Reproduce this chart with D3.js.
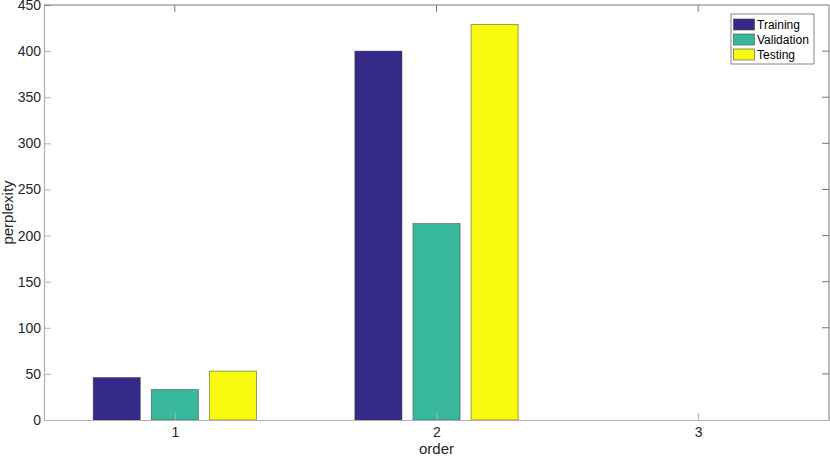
<!DOCTYPE html>
<html>
<head>
<meta charset="utf-8">
<script src="https://cdn.jsdelivr.net/npm/d3@7"></script>
<style>
body { margin: 0; background: #fff; }
text { font-family: "Liberation Sans", Arial, sans-serif; }
</style>
</head>
<body>
<div id="chart"></div>
<script>
// données
const orders = [1, 2, 3];
const series = ["Training", "Validation", "Testing"];
const training = [46, 400, 0];
const validation = [33, 213, 0];
const testing = [53, 429, 0];
const yTicks = [0, 50, 100, 150, 200, 250, 300, 350, 400, 450];
const colors = ["#352a87", "#38b99e", "#f9fb0e"];

const width = 830, height = 457;
const margin = {top: 5, right: 1, bottom: 37, left: 44};

const svg = d3.select("#chart").append("svg")
    .attr("width", width)
    .attr("height", height);

const x = d3.scaleLinear()
    .domain([0.5, 3.5])
    .range([margin.left, width - margin.right]);

const y = d3.scaleLinear()
    .domain([0, 450])
    .range([height - margin.bottom, margin.top]);

const values = [training, validation, testing];
const offsets = [-0.222, 0, 0.222];
const barW = 0.18;

const rows = [];
values.forEach((vals, s) => {
    vals.forEach((v, i) => {
        if (v > 0) rows.push({order: orders[i], value: v, s: s});
    });
});

// barres
svg.selectAll("rect.bar")
    .data(rows)
    .enter()
    .append("rect")
    .attr("class", "bar")
    .attr("x", d => x(d.order + offsets[d.s] - barW / 2))
    .attr("y", d => y(d.value))
    .attr("width", d => x(barW) - x(0))
    .attr("height", d => y(0) - y(d.value))
    .attr("fill", d => colors[d.s])
    .attr("stroke", "#333")
    .attr("stroke-opacity", 0.6)
    .attr("stroke-width", 0.8);

// axes
const axisColor = "#b0b0b0";
const tickLen = 7;
const gx = svg.append("g")
    .attr("transform", `translate(0,${y(0)})`)
    .call(d3.axisBottom(x).tickValues(orders).tickFormat(d3.format("d"))
        .tickSizeInner(-tickLen).tickSizeOuter(0).tickPadding(7));
const gy = svg.append("g")
    .attr("transform", `translate(${x(0.5)},0)`)
    .call(d3.axisLeft(y).tickValues(yTicks).tickSizeInner(-tickLen).tickSizeOuter(0).tickPadding(3));

[gx, gy].forEach(g => {
    g.select(".domain").attr("stroke", axisColor).attr("stroke-width", 1.2);
    g.selectAll(".tick line").attr("stroke", axisColor);
    g.selectAll(".tick text").attr("fill", "#262626").attr("font-size", 14)
        .style("font-family", "Liberation Sans, Arial, sans-serif");
});

// cadre haut / droite
svg.append("line")
    .attr("x1", x(0.5)).attr("x2", x(3.5))
    .attr("y1", y(450)).attr("y2", y(450))
    .attr("stroke", "#555").attr("stroke-width", 0.8);
svg.append("line")
    .attr("x1", x(3.5)).attr("x2", x(3.5))
    .attr("y1", y(450)).attr("y2", y(0))
    .attr("stroke", "#555").attr("stroke-width", 0.8);
svg.selectAll("line.rtick")
    .data(yTicks.slice(1, -1))
    .enter().append("line")
    .attr("x1", x(3.5)).attr("x2", x(3.5) - tickLen)
    .attr("y1", d => y(d)).attr("y2", d => y(d))
    .attr("stroke", "#555").attr("stroke-width", 0.8);
svg.selectAll("line.ttick")
    .data(orders)
    .enter().append("line")
    .attr("x1", d => x(d)).attr("x2", d => x(d))
    .attr("y1", y(450)).attr("y2", y(450) + tickLen)
    .attr("stroke", "#555").attr("stroke-width", 0.8);

// titres d'axes
svg.append("text")
    .attr("x", x(2)).attr("y", 454)
    .attr("text-anchor", "middle")
    .attr("font-size", 15)
    .attr("fill", "#262626")
    .text("order");
svg.append("text")
    .attr("transform", `translate(13,${y(225)}) rotate(-90)`)
    .attr("text-anchor", "middle")
    .attr("font-size", 15)
    .attr("fill", "#262626")
    .text("perplexity");

// légende
const legend = svg.append("g").attr("transform", "translate(731,14)");
legend.append("rect")
    .attr("width", 83).attr("height", 50)
    .attr("fill", "#fff").attr("stroke", "#333").attr("stroke-width", 0.6);
series.forEach((name, i) => {
    legend.append("rect")
        .attr("x", 2.5).attr("y", 5 + i * 15)
        .attr("width", 21).attr("height", 11)
        .attr("fill", colors[i]).attr("stroke", "#444").attr("stroke-width", 0.6);
    legend.append("text")
        .attr("x", 26).attr("y", 15 + i * 15)
        .attr("font-size", 12)
        .attr("fill", "#000")
        .text(name);
});
</script>
</body>
</html>
